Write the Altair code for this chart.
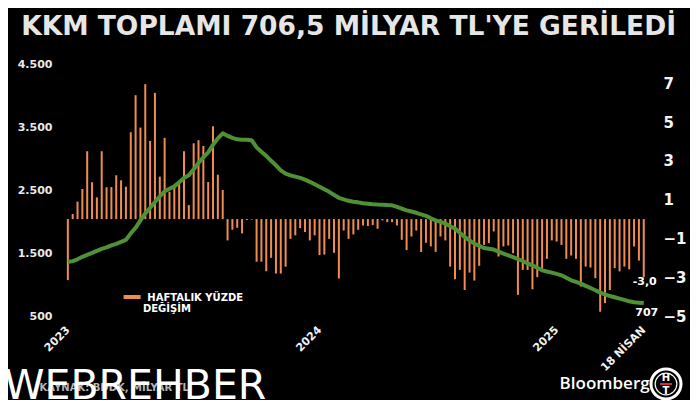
import altair as alt
import pandas as pd

TITLE = "KKM TOPLAMI 706,5 MİLYAR TL'YE GERİLEDİ"
SOURCE = "KAYNAK: BDDK, MİLYAR TL"
LEGEND_LINES = ["HAFTALIK YÜZDE", "DEĞİŞİM"]
WATERMARK = "WEBREHBER"
BRAND = "Bloomberg"
LOGO_TOP = "H"
LOGO_BOTTOM = "T"

week_index = list(range(120))

weekly_change = [
    -3.15, 0.26, 0.9, 1.55, 3.5, 1.9, 1.12, 3.5, 1.64, 1.65,
    2.26, 2.0, 1.67, 4.48, 6.39, 4.72, 6.96, 4.03, 6.51, 2.19,
    4.19, 1.41, 1.64, 1.83, 3.5, 0.72, 3.91, 4.07, 3.77, 1.91,
    4.79, 2.29, 1.5, -1.1, -0.55, -0.45, -0.74, -0.05, -0.03, -2.2,
    -2.2, -2.69, -2.0, -2.81, -2.81, -2.46, -1.02, -0.84, -0.47, -0.67,
    -1.1, -0.84, -1.86, -1.83, -1.02, -1.74, -3.07, -0.59, -1.02, -0.79,
    -0.55, -0.33, -0.36, -0.31, -0.5, -0.07, -0.16, -0.16, -0.33, -1.07,
    -1.6, -0.9, -0.59, -1.7, -1.22, -1.41, -1.69, -0.9, -1.1, -2.45,
    -3.1, -2.62, -3.66, -2.76, -3.17, -2.41, -1.33, -1.24, -0.64, -1.93,
    -1.41, -1.36, -1.76, -3.91, -2.62, -2.62, -3.62, -3.0, -2.57, -2.05,
    -1.1, -1.16, -1.33, -2.05, -1.88, -2.05, -3.48, -2.45, -2.5, -3.05,
    -4.78, -4.34, -3.66, -2.53, -2.7, -2.45, -2.59, -1.41, -2.14, -3.0,
]

kkm_total = [
    1357, 1371, 1400, 1440, 1471, 1503, 1535, 1566, 1590, 1622,
    1646, 1678, 1709, 1812, 1900, 2019, 2130, 2217, 2309, 2400,
    2479, 2519, 2558, 2622, 2690, 2733, 2828, 2931, 3019, 3098,
    3217, 3320, 3399, 3360, 3328, 3304, 3296, 3296, 3288, 3177,
    3106, 3042, 2963, 2892, 2812, 2760, 2733, 2712, 2693, 2665,
    2630, 2590, 2550, 2511, 2471, 2423, 2376, 2352, 2328, 2315,
    2304, 2289, 2281, 2273, 2268, 2265, 2260, 2257, 2233, 2206,
    2177, 2158, 2138, 2114, 2090, 2050, 2019, 1995, 1968, 1924,
    1887, 1820, 1754, 1701, 1649, 1614, 1579, 1566, 1554, 1522,
    1490, 1463, 1436, 1405, 1373, 1336, 1305, 1265, 1225, 1206,
    1189, 1168, 1146, 1106, 1067, 1041, 1014, 979, 944, 908,
    871, 844, 817, 797, 776, 756, 733, 717, 712, 706.5,
]

x_tick_pos = [0, 52, 101, 119]
x_tick_labels = ["2023", "2024", "2025", "18 NİSAN"]
left_ticks = [500, 1500, 2500, 3500, 4500]
right_ticks = [-5, -3, -1, 1, 3, 5, 7]

FONT = "DejaVu Sans"
ORANGE = "#ef8d50"
GREEN = "#4f9135"

df = pd.DataFrame({"i": week_index, "chg": weekly_change, "kkm": kkm_total})
last = df.tail(1).copy()
last["chg_label"] = last["chg"].map(lambda v: f"{v:.1f}".replace(".", ","))
last["kkm_label"] = last["kkm"].map(lambda v: str(int(v + 0.5)))

xscale = alt.Scale(domain=[-1, 120.5], nice=False, zero=False)
yr_scale = alt.Scale(domain=[-5, 8], nice=False, zero=False)
yl_scale = alt.Scale(domain=[500, 4500], nice=False, zero=False)

label_expr = " : ".join(
    f"datum.value == {p} ? '{l}'" for p, l in zip(x_tick_pos, x_tick_labels)
) + " : ''"

x_axis = alt.Axis(
    values=x_tick_pos, labelExpr=label_expr, labelAngle=-45, labelAlign="right",
    labelBaseline="middle", labelPadding=12, ticks=False, domain=False, grid=False,
    labelColor="#f0f0f0", labelFont=FONT, labelFontSize=11, labelFontWeight="bold",
    title=None, labelOverlap=False, labelFlush=False, labelBound=False,
)

X = alt.X("i:Q", scale=xscale, axis=x_axis)

bars = alt.Chart(df).mark_bar(size=2, color=ORANGE).encode(
    x=X,
    y=alt.Y("chg:Q", scale=yr_scale, axis=alt.Axis(
        orient="right", values=right_ticks, ticks=False, domain=False, grid=False,
        labelColor="#f4f4f4", labelFont=FONT, labelFontSize=15, labelFontWeight="bold",
        labelPadding=7, title=None, labelOverlap=False)),
    y2=alt.datum(0),
)

line = alt.Chart(df).mark_line(color=GREEN, strokeWidth=4, strokeJoin="round").encode(
    x=X,
    y=alt.Y("kkm:Q", scale=yl_scale, axis=alt.Axis(
        orient="left", values=left_ticks,
        labelExpr="replace(format(datum.value, ','), ',', '.')",
        ticks=False, domain=False, grid=False, labelColor="#e8e8e8", labelFont=FONT,
        labelFontSize=11, labelFontWeight="bold", labelPadding=6, title=None,
        labelOverlap=False)),
)

chg_label = alt.Chart(last).mark_text(
    font=FONT, fontSize=11, fontWeight="bold", color="white", baseline="top",
    align="center", dx=1, dy=-1).encode(
    x=X,
    y=alt.Y("chg:Q", scale=yr_scale, axis=None),
    text="chg_label:N",
)

kkm_label = alt.Chart(last).mark_text(
    font=FONT, fontSize=11, fontWeight="bold", color="white", baseline="top",
    align="center", dx=3, dy=4).encode(
    x=X,
    y=alt.Y("kkm:Q", scale=yl_scale, axis=None),
    text="kkm_label:N",
)

one = pd.DataFrame({"a": [0]})

def txt(s, x, y, size, color="white", weight="bold", align="left",
        baseline="middle", font=FONT):
    return alt.Chart(pd.DataFrame({"t": [s]})).mark_text(
        font=font, fontSize=size, fontWeight=weight, color=color, align=align,
        baseline=baseline).encode(x=alt.value(x), y=alt.value(y), text="t:N")

title = txt(TITLE, 290.6, -37.5, 26.5, color="#e6e6e6", align="center")
leg_rect = alt.Chart(one).mark_rule(color=ORANGE, strokeWidth=4).encode(
    x=alt.value(65.6), x2=alt.value(82.6), y=alt.value(233))
leg1 = txt(LEGEND_LINES[0], 89.3, 233.5, 10)
leg2 = txt(LEGEND_LINES[1], 84.9, 244.5, 10)
source = txt(SOURCE, -18.4, 323.5, 10, color="#b5b5b5")
watermark = txt(WATERMARK, -54, 335, 41, color="white", weight="normal",
                baseline="alphabetic")
brand = txt(BRAND, 501.6, 324.5, 17, color="white", weight=600,
            baseline="alphabetic", font="Open Sans")
ring1 = alt.Chart(one).mark_point(shape="circle", size=900, filled=False,
                                  stroke="white", strokeWidth=3, opacity=1).encode(
    x=alt.value(608), y=alt.value(320))
ring2 = alt.Chart(one).mark_point(shape="circle", size=470, filled=False,
                                  stroke="white", strokeWidth=1.2, opacity=1).encode(
    x=alt.value(608), y=alt.value(320))
red_bar = alt.Chart(one).mark_rule(color="#d62d2d", strokeWidth=2).encode(
    x=alt.value(602), x2=alt.value(614), y=alt.value(320))
logo_h = txt(LOGO_TOP, 608, 314, 10, align="center")
logo_t = txt(LOGO_BOTTOM, 608, 326.5, 10, align="center")

chart = alt.layer(
    bars, line, chg_label, kkm_label, title, leg_rect, leg1, leg2, source,
    watermark, brand, ring1, ring2, red_bar, logo_h, logo_t,
).resolve_scale(y="independent").properties(
    width=598, height=252,
    autosize=alt.AutoSizeParams(type="none"),
    padding={"left": 50, "top": 56, "right": 34, "bottom": 84},
).configure(background="black").configure_view(stroke=None)

chart.save("out.html", embed_options={"renderer": "svg", "actions": False})
